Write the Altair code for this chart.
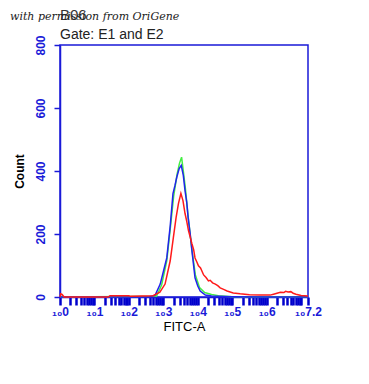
import altair as alt
import pandas as pd
import math

# ---- data (log10 of FITC-A, counts) ----
blue_x = [0, 2.6, 2.76, 2.91, 3.0, 3.10, 3.20, 3.28, 3.34, 3.39, 3.46, 3.52, 3.58, 3.63, 3.68, 3.72,
          3.78, 3.83, 3.92, 4.0, 4.07, 4.22, 4.4, 5.0, 6.0, 7.2]
blue_y = [0, 1, 5, 41, 80, 124, 226, 328, 355, 380, 408, 418, 386, 338, 300, 252,
          200, 147, 61, 35, 19, 6, 3, 1, 0, 0]

green_x = [0, 2.8, 2.95, 3.1, 3.2, 3.3, 3.4, 3.47, 3.53, 3.58, 3.64, 3.72, 3.83, 3.93, 4.05,
           4.2, 4.4, 4.6, 5.0, 7.2]
green_y = [0, 2, 38, 115, 215, 320, 390, 425, 444, 400, 345, 255, 150, 70, 30,
           14, 8, 4, 1, 0]

red_x = [0, 0.02, 0.06, 0.12, 1.4, 1.45, 2.0, 2.05, 2.7, 2.9, 3.05, 3.20, 3.29, 3.37, 3.44, 3.51,
         3.57, 3.63, 3.68, 3.73, 3.78, 3.83, 3.88, 3.92, 3.97, 4.02, 4.08, 4.17, 4.24, 4.31, 4.36,
         4.43, 4.51, 4.58, 4.65, 4.75, 4.85, 5.03, 5.23, 5.5, 5.8, 6.1, 6.2, 6.3, 6.4, 6.5, 6.55,
         6.62, 6.7, 6.77, 6.85, 7.0, 7.2]
red_y = [0, 10, 8, 0, 0, 4, 4, 2, 4, 15, 41, 115, 188, 252, 297, 329,
         306, 265, 240, 211, 190, 169, 150, 124, 112, 99, 92, 70, 62, 51, 53,
         45, 41, 36, 29, 24, 19, 13, 10, 7, 6, 6, 9, 12, 15, 14, 18,
         16, 17, 12, 9, 5, 3]

x_major = [0, 1, 2, 3, 4, 5, 6, 7]
x_minor = [round(d + math.log10(k), 4) for d in range(0, 7) for k in range(2, 10)]
x_ticks = sorted(x_major + x_minor + [7.2])
y_ticks = [0, 200, 400, 600, 800]

BLUE = "#1a1ad8"

def frame(xs, ys):
    return pd.DataFrame({"x": xs, "y": ys})

xscale = alt.Scale(domain=[0, 7.2], nice=False, zero=False)
yscale = alt.Scale(domain=[0, 800], nice=False)

label_expr = (
    "datum.value == 7.2 ? '₁₀7.2' : "
    "(datum.value < 6.5 && abs(datum.value - round(datum.value)) < 0.001 ? "
    "'₁₀' + round(datum.value) : '')"
)

xaxis = alt.Axis(values=x_ticks, labelExpr=label_expr, title="FITC-A", grid=False,
                 domainColor=BLUE, domainWidth=1.5, tickColor="#0000cc", tickWidth=2.5, tickSize=8,
                 labelColor=BLUE, labelFont="Liberation Sans", labelFontSize=12,
                 labelFontWeight="bold", labelOverlap=False, labelFlush=False,
                 labelPadding=1, titleColor="black", titleFont="Liberation Sans",
                 titleFontSize=13, titleFontWeight="normal", titlePadding=3)
yaxis = alt.Axis(values=y_ticks, title="Count", grid=False, domainColor=BLUE, domainWidth=1.5,
                 tickColor=BLUE, tickWidth=1.5, tickSize=6, labelColor=BLUE, labelAngle=-90,
                 labelAlign="center", labelBaseline="bottom",
                 labelFont="Liberation Sans", labelFontSize=12, labelFontWeight="bold",
                 labelPadding=7, titleColor="black", titleFont="Liberation Sans",
                 titleFontSize=12, titleFontWeight="bold", titlePadding=8)

def line(xs, ys, color):
    return alt.Chart(frame(xs, ys)).mark_line(color=color, strokeWidth=1.5).encode(
        x=alt.X("x:Q", scale=xscale, axis=xaxis),
        y=alt.Y("y:Q", scale=yscale, axis=yaxis),
    )

green = line(green_x, green_y, "#44ee44")
blue = line(blue_x, blue_y, "#2222ee")
red = line(red_x, red_y, "#ff1a1a")

def label(text, x, y, size, **kw):
    return alt.Chart(pd.DataFrame({"t": [text]})).mark_text(
        align="left", baseline="middle", fontSize=size, **kw
    ).encode(text="t:N", x=alt.value(x), y=alt.value(y))

perm = label("with permission from OriGene", -50, -28, 11, font="DejaVu Serif",
             fontStyle="italic", color="#222222")
b06 = label("B06", 0, -30, 15, font="Liberation Sans", color="#333333")
gate = label("Gate: E1 and E2", 0, -10, 14, font="Liberation Sans", color="#222222")

chart = alt.layer(green, blue, red, b06, perm, gate).properties(
    width=248, height=252,
    autosize=alt.AutoSizeParams(type="none"),
    padding={"left": 52, "top": 37, "right": 53, "bottom": 70},
    background="white",
).configure_view(stroke=BLUE, strokeWidth=1.5)

chart.save("out.html", embed_options={"renderer": "svg", "actions": False})
